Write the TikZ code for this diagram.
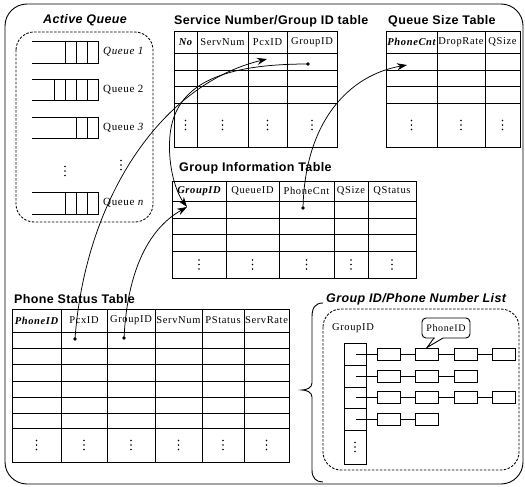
\documentclass[tikz,border=0pt]{standalone}
\usepackage{fontspec}
\setmainfont{Liberation Serif}
\setsansfont{Liberation Sans}
\newfontfamily\titlefont[LetterSpace=3]{Liberation Sans}
\newfontfamily\cellfont[LetterSpace=6]{Liberation Serif}
\usetikzlibrary{arrows.meta,calc}

\tikzset{
  grid/.style={line width=0.9pt},
  ttl/.style={font=\titlefont\bfseries\fontsize{12.5}{14}\selectfont, anchor=west, inner sep=0pt},
  ttlit/.style={font=\titlefont\bfseries\itshape\fontsize{12.5}{14}\selectfont, anchor=west, inner sep=0pt},
  hdr/.style={font=\cellfont\fontsize{10.5}{12}\selectfont, inner sep=0pt},
  hdrb/.style={font=\cellfont\bfseries\itshape\fontsize{10.5}{12}\selectfont, inner sep=0pt},
  qlab/.style={font=\cellfont\fontsize{11}{12}\selectfont, anchor=west, inner sep=0pt},
  link/.style={line width=0.75pt, -{Stealth[length=10pt,width=7pt]}},
  dashbox/.style={dash pattern=on 2.5pt off 1.5pt, line width=0.85pt, rounded corners=18pt},
  lbox/.style={draw, line width=0.9pt, minimum width=23pt, minimum height=12pt, inner sep=0pt},
  vd/.pic={\foreach \k in {-4.5,0,4.5} \fill (0,\k) circle (0.95pt);}
}

\begin{document}
\begin{tikzpicture}[x=1pt,y=-1pt]
\useasboundingbox (0,0) rectangle (525,487);

% outer frame
\draw[line width=0.9pt, rounded corners=22pt] (5,4) rectangle (523,484);

% ---------------- Active queue ----------------
\node[ttlit, anchor=center] (aqTitle) at (85,20) {Active Queue};
\draw[dashbox] (16,32) rectangle (153,222);
% queue 1
\draw[grid] (32,41) -- (98,41) -- (98,63) -- (32,63);
\foreach \x in {65,76,87} \draw[grid] (\x,41) -- (\x,63);
% queue 2
\draw[grid] (32,79) -- (98,79) -- (98,100) -- (32,100);
\foreach \x in {54,65,76,87} \draw[grid] (\x,79) -- (\x,100);
% queue 3
\draw[grid] (32,117) -- (98,117) -- (98,138) -- (32,138);
\foreach \x in {76,87} \draw[grid] (\x,117) -- (\x,138);
% queue n
\draw[grid] (32,192) -- (98,192) -- (98,214) -- (32,214);
\foreach \x in {65,76,87} \draw[grid] (\x,192) -- (\x,214);
\node[qlab] (q1) at (103,52) {\itshape Queue 1};
\node[qlab] (q2) at (103,90) {Queue 2};
\node[qlab] (q3) at (103,128) {Queue \itshape 3};
\node[qlab] (qn) at (103,203) {Queue \itshape n};
\pic at (65,171) {vd};
\pic at (121,165) {vd};

% ---------------- Service number / group ID table ----------------
\node[ttl] (svTitle) at (174,21) {Service Number/Group ID table};
\draw[grid] (174,31) rectangle (337,147);
\foreach \y in {53,70,86,103} \draw[grid] (174,\y) -- (337,\y);
\foreach \x in {197,248,287} \draw[grid] (\x,31) -- (\x,147);
\node[hdrb] (sNo) at (185.5,42) {No};
\node[hdr] (sServ) at (222.5,42) {ServNum};
\node[hdr] (sPcx) at (267.5,42) {PcxID};
\node[hdr] (sGrp) at (312,42) {GroupID};
\foreach \x in {185.5,222.5,267.5,312} \pic at (\x,125) {vd};

% ---------------- Queue size table ----------------
\node[ttl] (qsTitle) at (388,21) {Queue Size Table};
\draw[grid] (386,31) rectangle (520,147);
\foreach \y in {53,70,86,103} \draw[grid] (386,\y) -- (520,\y);
\foreach \x in {437,485} \draw[grid] (\x,31) -- (\x,147);
\node[hdrb] (qPhone) at (411.5,42) {PhoneCnt};
\node[hdr] (qDrop) at (461,42) {DropRate};
\node[hdr] (qSize) at (502.5,42) {QSize};
\foreach \x in {411.5,461,502.5} \pic at (\x,125) {vd};

% ---------------- Group information table ----------------
\node[ttl] (giTitle) at (179,168) {Group Information Table};
\draw[grid] (172,181) rectangle (416,278);
\foreach \y in {201,218,234,251} \draw[grid] (172,\y) -- (416,\y);
\foreach \x in {226,279,334,368} \draw[grid] (\x,181) -- (\x,278);
\node[hdrb] (gGrp) at (199,191) {GroupID};
\node[hdr] (gQue) at (252.5,191) {QueueID};
\node[hdr] (gPhone) at (306.5,191) {PhoneCnt};
\node[hdr] (gQSize) at (351,191) {QSize};
\node[hdr] (gQStat) at (392,191) {QStatus};
\foreach \x in {199,252.5,306.5,351,392} \pic at (\x,264.5) {vd};

% ---------------- Phone status table ----------------
\node[ttl] (psTitle) at (14,299) {Phone Status Table};
\draw[grid] (12,309) rectangle (289,462);
\foreach \y in {332,348,364,381,397,413,428} \draw[grid] (12,\y) -- (289,\y);
\foreach \x in {61,107,155,202,244} \draw[grid] (\x,309) -- (\x,462);
\node[hdrb] (pPhone) at (36.5,320.5) {PhoneID};
\node[hdr] (pPcx) at (84,320.5) {PcxID};
\node[hdr] (pGrp) at (131,320.5) {GroupID};
\node[hdr] (pServ) at (178.5,320.5) {ServNum};
\node[hdr] (pStat) at (223,320.5) {PStatus};
\node[hdr] (pRate) at (266.5,320.5) {ServRate};
\foreach \x in {36.5,84,131,178.5,223,266.5} \pic at (\x,445) {vd};

% ---------------- Group ID / phone number list ----------------
\node[ttlit] (glTitle) at (326,299) {Group ID/Phone Number List};
\draw[line width=0.9pt] (323,303) .. controls (315,303) and (312,308) .. (312,317)
  -- (312,383) .. controls (312,388) and (306,390) .. (302,390)
  .. controls (306,390) and (312,392) .. (312,397)
  -- (312,470) .. controls (312,478) and (316,482) .. (323,482);
\draw[dashbox] (323,309) rectangle (519,470);
\node[hdr] (glLabel) at (353,328) {GroupID};
\draw[grid] (344,343) rectangle (366,464);
\foreach \y in {365,387,408,430} \draw[grid] (344,\y) -- (366,\y);
\pic at (355,447) {vd};

% chains of phone entries per group
\node[lbox] (b11) at (388.5,354) {};
\node[lbox] (b12) at (427,354) {};
\node[lbox] (b13) at (465.5,354) {};
\node[lbox] (b14) at (504,354) {};
\node[lbox] (b21) at (388.5,376) {};
\node[lbox] (b22) at (427,376) {};
\node[lbox] (b23) at (465.5,376) {};
\node[lbox] (b31) at (388.5,397.5) {};
\node[lbox] (b32) at (427,397.5) {};
\node[lbox] (b33) at (465.5,397.5) {};
\node[lbox] (b34) at (504,397.5) {};
\node[lbox] (b41) at (388.5,419) {};
\node[lbox] (b42) at (427,419) {};
\coordinate (h1) at (356,354);
\coordinate (h2) at (356,376);
\coordinate (h3) at (356,397.5);
\coordinate (h4) at (356,419);
\draw[grid] (h1) -- (b11) -- (b12) -- (b13) -- (b14);
\draw[grid] (h2) -- (b21) -- (b22) -- (b23);
\draw[grid] (h3) -- (b31) -- (b32) -- (b33) -- (b34);
\draw[grid] (h4) -- (b41) -- (b42);

% callout naming an entry
\node[draw, line width=0.9pt, rounded corners=4pt, minimum width=48pt, minimum height=20pt,
      inner sep=0pt, font=\cellfont\fontsize{10}{11}\selectfont] (pidCall) at (446,328) {PhoneID};
\fill[white] (434.5,336.5) rectangle (442.5,339.5);
\draw[line width=0.9pt] (434,338) -- (b12.north) -- (443,338);

% ---------------- references between tables ----------------
\coordinate (sPcxIn) at (267,59);
\coordinate (sGrpOut) at (308,64);
\coordinate (qPhoneIn) at (407,65);
\coordinate (gGrpIn) at (187,207);
\coordinate (gPhoneOut) at (303,208);
\coordinate (pPcxOut) at (75,339);
\coordinate (pGrpOut) at (124,338);

\draw[link] (pPcxOut) .. controls (85,200) and (160,85) .. (sPcxIn);
\draw[link] (sGrpOut) .. controls (220,64) and (175,85) .. (170,135)
  .. controls (167,170) and (178,195) .. (gGrpIn);
\draw[link] (pGrpOut) .. controls (128,260) and (155,225) .. (gGrpIn);
\draw[link] (gPhoneOut) .. controls (305,120) and (350,75) .. (qPhoneIn);
\foreach \c in {sGrpOut,gPhoneOut,pPcxOut,pGrpOut} \fill (\c) circle (1.8pt);
\end{tikzpicture}
\end{document}
